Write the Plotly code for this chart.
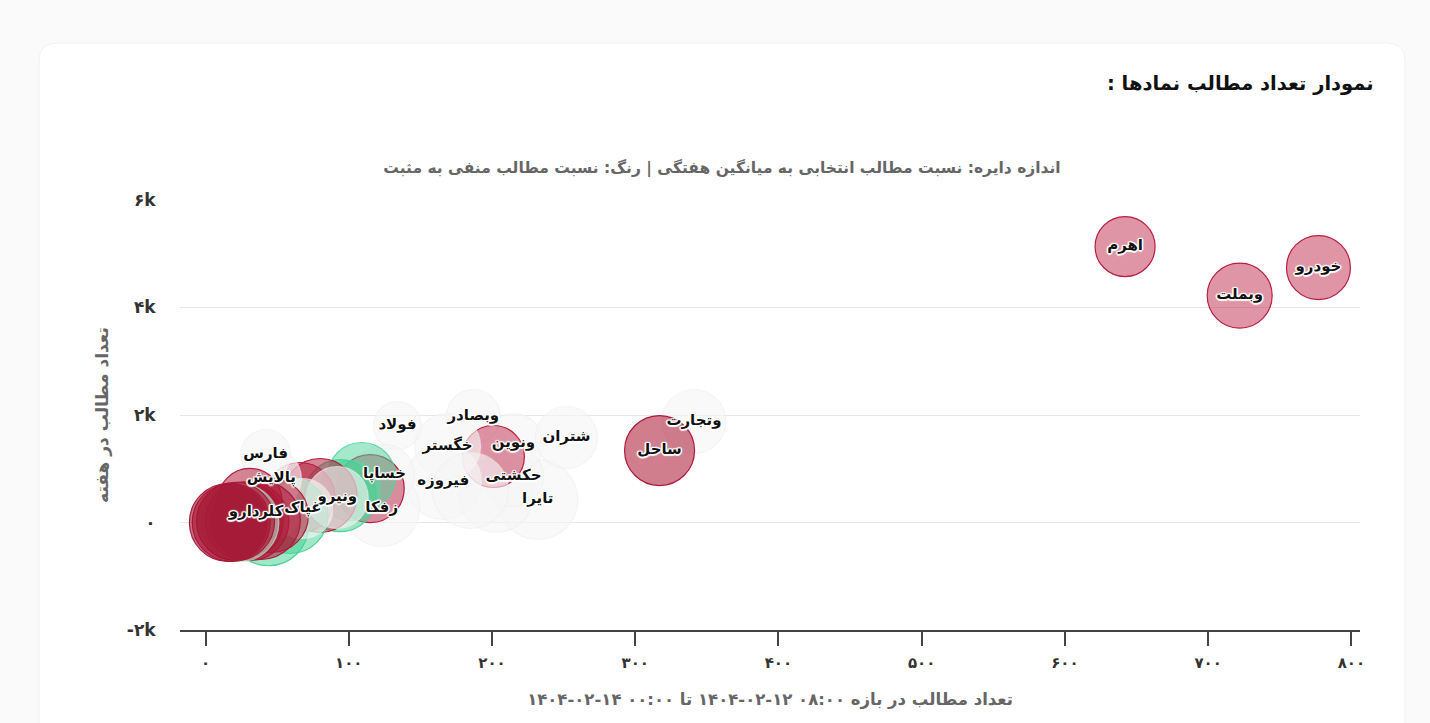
import plotly.graph_objects as go

# Step 1: bubbles, back to front (symbol label is empty where the chart hides it)
symbols = ['تایرا', '', 'حکشتی', 'ونوین', 'وبصادر', 'شتران', '', 'خگستر', 'فیروزه', '', 'فولاد',
           'وتجارت', 'ساحل', 'اهرم', 'وبملت', 'خودرو',
           'زفکا', 'خساپا', '', '', '', '', '', '', 'ونیرو', '', '',
           'فارس', 'پالایش', 'غپاک', 'کلر', 'دارو',
           '', '', '', '', '', '', '', '', '']
posts = [232, 203, 215, 215, 187, 252, 201, 169, 166, 185, 134,
         341, 317, 642, 722, 777,
         123, 125, 115, 109, 101, 94, 80, 66, 92, 59, 44,
         42, 46, 68, 46, 27,
         31, 46, 39, 31, 27, 24, 21, 18, 16]
weekly = [428, 502, 856, 1469, 1972, 1581, 1228, 1414, 763, 595, 1804,
          1879, 1339, 5134, 4222, 4743,
          260, 893, 632, 856, 595, 500, 502, 465, 465, 130, -60,
          1265, 818, 260, 186, 186,
          410, 130, 40, 20, 30, 0, 20, 0, 0]
diameters = [80, 74, 60, 60, 54, 62, 62, 66, 76, 76, 48,
             64, 70, 60, 65, 64,
             76, 60, 68, 68, 60, 72, 74, 70, 62, 76, 80,
             50, 60, 60, 56, 56,
             64, 74, 78, 78, 78, 78, 78, 78, 78]
neg_ratio = [0.5, 0.5, 0.5, 0.5, 0.5, 0.5, 0.82, 0.5, 0.5, 0.5, 0.5,
             0.5, 0.95, 0.82, 0.82, 0.82,
             0.5, 0.5, 0.85, 0.08, 0.1, 0.05, 0.9, 0.9, 0.5, 0.05, 0.04,
             0.5, 0.5, 0.5, 0.5, 0.5,
             0.9, 0.9, 0.95, 0.95, 0.95, 0.3, 1, 1, 1]

y_tick_vals = [-2000, 0, 2000, 4000, 6000]
y_tick_text = ['-۲k', '۰', '۲k', '۴k', '۶k']
x_tick_vals = [0, 100, 200, 300, 400, 500, 600, 700, 800]
x_tick_text = ['۰', '۱۰۰', '۲۰۰', '۳۰۰', '۴۰۰', '۵۰۰', '۶۰۰', '۷۰۰', '۸۰۰']

FONT = 'DejaVu Sans'
HALO = ('1.5px 0 1px #fff, -1.5px 0 1px #fff, 0 1.5px 1px #fff, 0 -1.5px 1px #fff, '
        '1px 1px 1px #fff, -1px -1px 1px #fff, 1px -1px 1px #fff, -1px 1px 1px #fff')

# Step 2: build the plot
fig = go.Figure()
fig.add_trace(go.Scatter(
    x=posts, y=weekly, text=symbols,
    mode='markers+text', textposition='middle center', cliponaxis=False,
    textfont=dict(family=FONT, size=15, color='#111', shadow=HALO, weight='bold'),
    marker=dict(
        size=diameters, sizemode='diameter', opacity=1,
        color=neg_ratio, cmin=0, cmax=1, showscale=False,
        colorscale=[[0, 'rgba(46,204,135,0.5)'], [0.45, 'rgba(246,246,246,0.62)'],
                    [0.55, 'rgba(246,246,246,0.62)'], [0.82, 'rgba(190,30,65,0.47)'],
                    [1, 'rgba(165,20,50,0.6)']],
        line=dict(width=1.2, color=neg_ratio, cmin=0, cmax=1,
                  colorscale=[[0, 'rgb(50,205,140)'], [0.45, 'rgba(238,238,238,0.6)'],
                              [0.55, 'rgba(238,238,238,0.6)'], [0.82, 'rgb(185,30,65)'],
                              [1, 'rgb(170,25,55)']]),
    ),
    hoverinfo='skip',
))

# Step 3: card behind the chart, in page pixels mapped onto paper coords
L, R, T, B = 180, 70, 200, 93
W, H = 1430, 723
px = lambda v: (v - L) / (W - L - R)
py = lambda v: (H - B - v) / (H - T - B)
card = (f'M {px(39)} {py(743)} L {px(39)} {py(61)} Q {px(39)} {py(43)} {px(57)} {py(43)} '
        f'L {px(1387)} {py(43)} Q {px(1405)} {py(43)} {px(1405)} {py(61)} L {px(1405)} {py(743)} Z')

fig.update_layout(
    width=W, height=H,
    margin=dict(l=L, r=R, t=T, b=B),
    paper_bgcolor='#fafafa',
    plot_bgcolor='rgba(0,0,0,0)',
    showlegend=False,
    font=dict(family=FONT, color='#333'),
    title=dict(
        text='اندازه دایره: نسبت مطالب انتخابی به میانگین هفتگی | رنگ: نسبت مطالب منفی به مثبت',
        x=722 / W, xanchor='center', y=1 - 168 / H, yanchor='middle',
        font=dict(family=FONT, size=15.5, color='#666', weight='bold'),
    ),
    xaxis=dict(
        range=[-17.8, 806], showgrid=False, zeroline=False,
        showline=True, linecolor='#444', linewidth=1.5,
        ticks='outside', ticklen=14, tickcolor='#444', tickwidth=1.5,
        tickvals=x_tick_vals, ticktext=x_tick_text, ticklabelstandoff=4,
        tickfont=dict(size=15, color='#333', weight='bold'),
        title=dict(
            text='تعداد مطالب در بازه ۰۸:۰۰ ۱۲-۰۲-۱۴۰۴ تا ۰۰:۰۰ ۱۴-۰۲-۱۴۰۴',
            standoff=23, font=dict(size=16.5, color='#666', weight='bold'),
        ),
    ),
    yaxis=dict(
        range=[-2000, 6000], zeroline=False, showline=False,
        gridcolor='#e6e6e6', gridwidth=1,
        tickvals=y_tick_vals, ticktext=y_tick_text,
        ticks='outside', ticklen=20, tickcolor='rgba(0,0,0,0)',
        tickfont=dict(size=17, color='#333', weight='bold'),
        title=dict(
            text='تعداد مطالب در هفته',
            standoff=13, font=dict(size=17, color='#666', weight='bold'),
        ),
    ),
    shapes=[dict(type='path', path=card, xref='paper', yref='paper', layer='below',
                 fillcolor='#ffffff', line=dict(color='#f1f1f1', width=1))],
    annotations=[dict(
        text='نمودار تعداد مطالب نمادها :\u200f',
        xref='paper', yref='paper', x=px(1376), y=py(84),
        xanchor='right', yanchor='middle', showarrow=False,
        font=dict(family=FONT, size=19.5, color='#111', weight='bold'),
    )],
)

# Step 4: write the page with no body margin
fig.write_html('out.html', config=dict(displayModeBar=False),
               post_script="document.body.style.margin='0';document.body.style.overflow='hidden';")
